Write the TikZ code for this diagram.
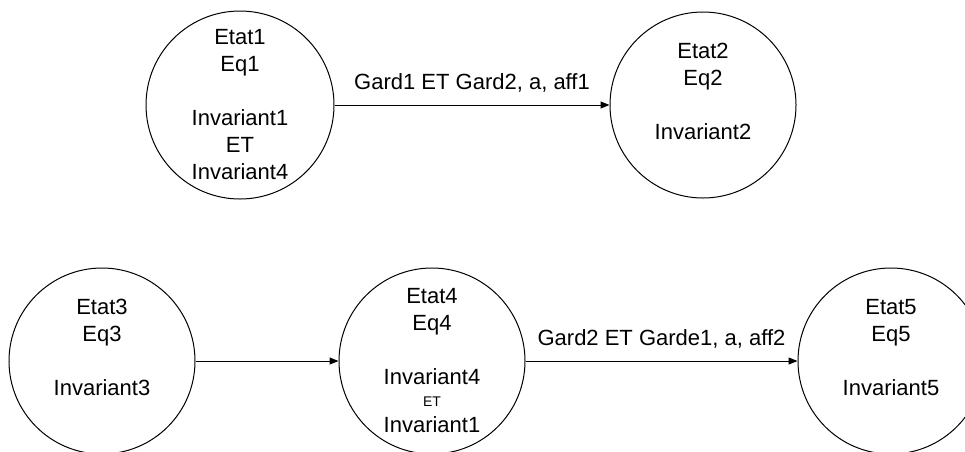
\documentclass[tikz,border=0pt]{standalone}
\usepackage{fontspec}
\setmainfont{Liberation Sans}
\usepackage{tikz}
\usetikzlibrary{arrows.meta,positioning}

\begin{document}
\begin{tikzpicture}[x=1pt,y=-1pt,>={Triangle[length=9pt,width=7pt]},line width=1pt]
\tikzstyle{etat}=[draw,circle,minimum size=186pt,inner sep=0pt,align=center,font=\fontsize{22}{27}\selectfont]
\tikzstyle{garde}=[above,inner sep=0pt,yshift=12pt,font=\fontsize{22}{27}\selectfont]
\useasboundingbox (0,0) rectangle (965,451);
\node[etat,minimum size=188pt] (etat1) at (240,105) {Etat1\\Eq1\\[27pt]Invariant1\\ET\\Invariant4};
\node[etat,right=275pt of etat1] (etat2) {Etat2\\Eq2\\[27pt]Invariant2\\\mbox{}};
\node[etat] (etat3) at (102,361) {Etat3\\Eq3\\[27pt]Invariant3\\\mbox{}};
\node[etat,right=143pt of etat3] (etat4) {Etat4\\Eq4\\[27pt]Invariant4\\[-5pt]{\fontsize{14}{17}\selectfont ET}\\[-1pt]Invariant1};
\node[etat,right=272pt of etat4] (etat5) {Etat5\\Eq5\\[27pt]Invariant5\\\mbox{}};
\draw[->] (etat1)--node[garde]{Gard1 ET Gard2, a, aff1}(etat2);
\draw[->] (etat3)--(etat4);
\draw[->] (etat4)--node[garde]{Gard2 ET Garde1, a, aff2}(etat5);
\end{tikzpicture}
\end{document}
